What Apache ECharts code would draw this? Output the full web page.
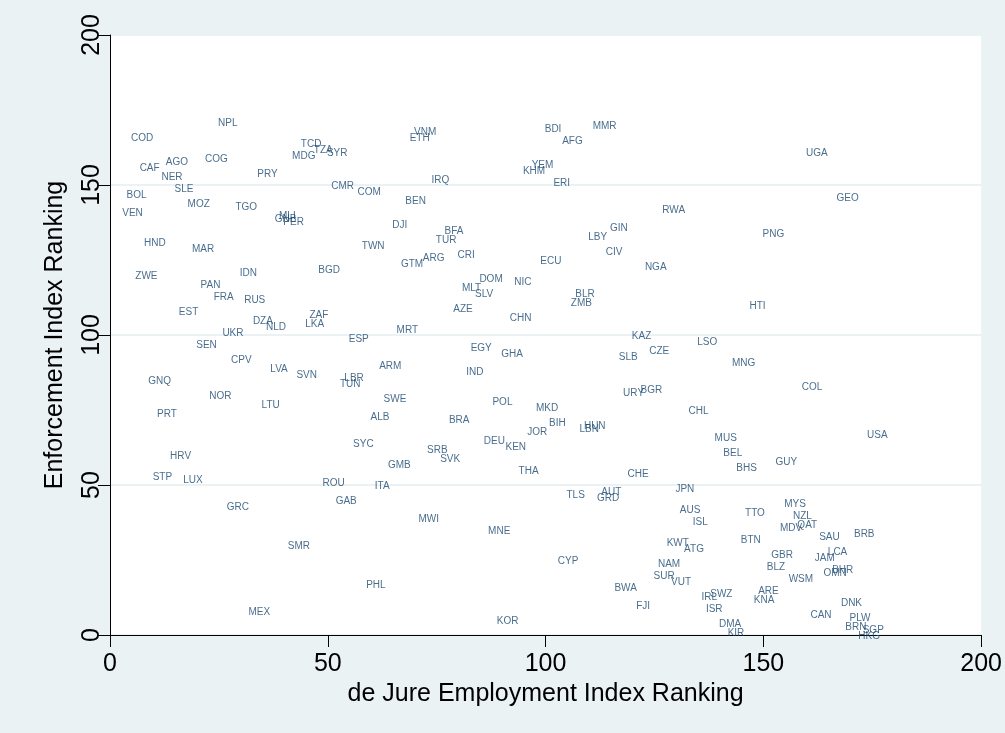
<!DOCTYPE html>
<html>
<head>
<meta charset="utf-8">
<script src="https://cdn.jsdelivr.net/npm/echarts@6/dist/echarts.min.js"></script>
<style>
  html, body { margin: 0; padding: 0; background: #eaf2f3; }
  #chart { width: 1005px; height: 733px; }
</style>
</head>
<body>
<div id="chart"></div>
<script>
// country codes with the two rankings
const countries = ['COD','NPL','TCD','TZA','SYR','MDG','CAF','AGO','COG','NER','PRY','BOL','SLE','VEN','MOZ','TGO','GNB','MLI','PER','HND','MAR','ZWE','IDN','BGD','PAN',
  'VNM','ETH','YEM','KHM','IRQ','CMR','COM','BEN','DJI','BFA','TUR','TWN','CRI','ARG','GTM','ECU','DOM','NIC','MLT','SLV',
  'BDI','MMR','AFG','ERI','RWA','GIN','LBY','CIV','NGA','PNG','UGA','GEO',
  'FRA','RUS','EST','DZA','NLD','ZAF','LKA','UKR','SEN','CPV','LVA','SVN','GNQ','NOR','LTU','PRT','HRV',
  'AZE','CHN','MRT','ESP','EGY','GHA','ARM','IND','LBR','TUN','SWE','POL','MKD','ALB','BRA','JOR','DEU','KEN','SYC','SRB','SVK','GMB','THA',
  'BLR','ZMB','HTI','KAZ','LSO','CZE','SLB','MNG','URY','BGR','CHL','BIH','HUN','LBN','MUS','BEL','BHS','COL','USA','GUY',
  'STP','LUX','ROU','GRC','SMR','MEX','ITA','GAB','MWI','MNE','PHL','KOR',
  'CHE','TLS','AUT','GRD','JPN','AUS','ISL','TTO','BTN','KWT','ATG','CYP','NAM','SUR','VUT','BWA','IRL','SWZ','FJI','ISR','DMA','KIR','ARE','KNA',
  'MYS','NZL','QAT','MDV','SAU','BRB','GBR','LCA','JAM','BLZ','OMN','BHR','WSM','DNK','CAN','PLW','BRN','SGP','HKG'];
const deJure = [4,24,43,46,49,41,6,12,21,11,33,3,14,2,17,28,37,38,39,7,18,5,29,47,20,
  69,68,96,94,73,50,56,67,64,76,74,57,79,71,66,98,84,92,80,83,
  99,110,103,101,126,114,109,113,122,149,159,166,
  23,30,15,32,35,45,44,25,19,27,36,42,8,22,34,10,13,
  78,91,65,54,82,89,61,81,53,52,62,87,97,59,77,95,85,90,55,72,75,63,93,
  106,105,146,119,134,123,116,142,117,121,132,100,108,107,138,140,143,158,173,152,
  9,16,48,26,40,31,60,51,70,86,58,88,
  118,104,112,111,129,130,133,145,144,127,131,102,125,124,128,115,135,137,120,136,139,141,148,147,
  154,156,157,153,162,170,151,164,161,150,163,165,155,167,160,169,168,172,171];
const enforcement = [166,171,164,162,161,160,156,158,159,153,154,147,149,141,144,143,139,140,138,131,129,120,121,122,117,
  168,166,157,155,152,150,148,145,137,135,132,130,127,126,124,125,119,118,116,114,
  169,170,165,151,142,136,133,128,123,134,161,146,
  113,112,108,105,103,107,104,101,97,92,89,87,85,80,77,74,60,
  109,106,102,99,96,94,90,88,86,84,79,78,76,73,72,68,65,63,64,62,59,57,55,
  114,111,110,100,98,95,93,91,81,82,75,71,70,69,66,61,56,83,67,58,
  53,52,51,43,30,8,50,45,39,35,17,5,
  54,47,48,46,49,42,38,41,32,31,29,25,24,20,18,16,13,14,10,9,4,1,15,12,
  44,40,37,36,33,34,27,28,26,23,21,22,19,11,7,6,3,2,0];
const xTicks = [0, 50, 100, 150, 200];
const yTicks = [0, 50, 100, 150, 200];

const points = countries.map((c, i) => ({name: c, value: [deJure[i], enforcement[i]]}));

const chart = echarts.init(document.getElementById('chart'));
const font = 'Liberation Sans, Arial, sans-serif';

chart.setOption({
  backgroundColor: '#eaf2f3',
  animation: false,
  grid: {
    left: 110, right: 18, top: 35, bottom: 98,
    show: true, backgroundColor: '#ffffff', borderWidth: 0
  },
  xAxis: {
    type: 'value',
    min: xTicks[0], max: xTicks[xTicks.length - 1], interval: 50,
    name: 'de Jure Employment Index Ranking',
    nameLocation: 'middle', nameGap: 43,
    nameTextStyle: {fontFamily: font, fontSize: 25, color: '#000'},
    axisLine: {lineStyle: {color: '#000', width: 1}},
    axisTick: {inside: false, length: 12, lineStyle: {color: '#000'}},
    axisLabel: {fontFamily: font, fontSize: 25, color: '#000', margin: 17},
    splitLine: {show: false}
  },
  yAxis: {
    type: 'value',
    min: yTicks[0], max: yTicks[yTicks.length - 1], interval: 50,
    name: 'Enforcement Index Ranking',
    nameLocation: 'middle', nameGap: 42,
    nameTextStyle: {fontFamily: font, fontSize: 25, color: '#000'},
    axisLine: {show: true, lineStyle: {color: '#000', width: 1}},
    axisTick: {show: true, inside: false, length: 12, lineStyle: {color: '#000'}},
    axisLabel: {fontFamily: font, fontSize: 25, color: '#000', rotate: 90, margin: 5},
    splitLine: {lineStyle: {color: '#eaf2f3', width: 2}}
  },
  series: [{
    type: 'scatter',
    data: points,
    symbolSize: 1,
    itemStyle: {color: 'rgba(0,0,0,0)'},
    silent: true,
    label: {
      show: true,
      position: 'right',
      distance: 3,
      offset: [0, 1.5],
      formatter: p => p.name,
      fontFamily: font,
      fontSize: 10,
      color: '#1a476f'
    }
  }]
});
</script>
</body>
</html>
